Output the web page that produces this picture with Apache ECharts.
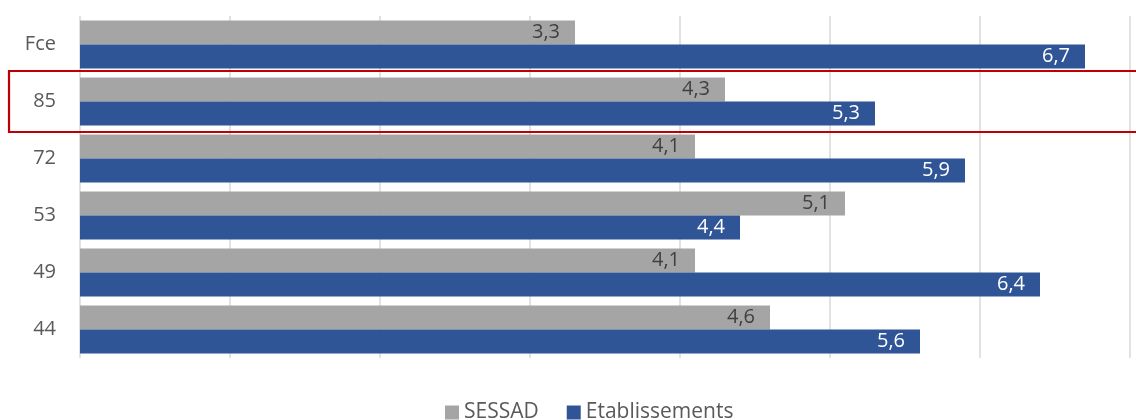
<!DOCTYPE html>
<html>
<head>
<meta charset="utf-8">
<script src="https://cdn.jsdelivr.net/npm/echarts@6/dist/echarts.min.js"></script>
<style>html,body{margin:0;padding:0;background:#fff}#c{width:1136px;height:420px}</style>
</head>
<body>
<div id="c"></div>
<script>
const categories = ['44', '49', '53', '72', '85', 'Fce'];
const sessad = [4.6, 4.1, 5.1, 4.1, 4.3, 3.3];
const etablissements = [5.6, 6.4, 4.4, 5.9, 5.3, 6.7];
const seriesNames = ['SESSAD', 'Etablissements'];

const chart = echarts.init(document.getElementById('c'));
const fmt = p => String(p.value).replace('.', ',');
const font = '"Open Sans", Lato, sans-serif';
chart.setOption({
  animation: false,
  textStyle: { fontFamily: font },
  grid: { left: 80, right: 6, top: 16, bottom: 62 },
  legend: {
    data: seriesNames,
    top: 397,
    left: 440,
    icon: 'rect',
    itemWidth: 14,
    itemHeight: 14,
    itemGap: 28,
    textStyle: { fontSize: 21, color: '#595959', fontFamily: font }
  },
  xAxis: {
    type: 'value',
    min: 0, max: 7, interval: 1,
    axisLabel: { show: false },
    axisLine: { show: false },
    axisTick: { show: false },
    splitLine: { lineStyle: { color: '#d9d9d9', width: 1.5 } }
  },
  yAxis: {
    type: 'category',
    data: categories,
    axisLine: { show: false },
    axisTick: { show: false },
    axisLabel: { fontSize: 20, color: '#595959', margin: 24, fontFamily: font }
  },
  series: [
    {
      name: 'SESSAD', type: 'bar', data: sessad,
      barWidth: 24, barGap: '0%',
      itemStyle: { color: '#a5a5a5' },
      label: { show: true, position: 'insideRight', distance: 15, color: '#404040', fontSize: 20, formatter: fmt, fontFamily: font }
    },
    {
      name: 'Etablissements', type: 'bar', data: etablissements,
      barWidth: 24, barGap: '0%',
      itemStyle: { color: '#2f5597' },
      label: { show: true, position: 'insideRight', distance: 15, color: '#ffffff', fontSize: 20, formatter: fmt, fontFamily: font }
    }
  ],
  graphic: [
    { type: 'rect', shape: { x: 9, y: 71, width: 1140, height: 61 }, style: { fill: 'none', stroke: '#c00000', lineWidth: 2.2 }, z: 100 }
  ]
});
</script>
</body>
</html>
